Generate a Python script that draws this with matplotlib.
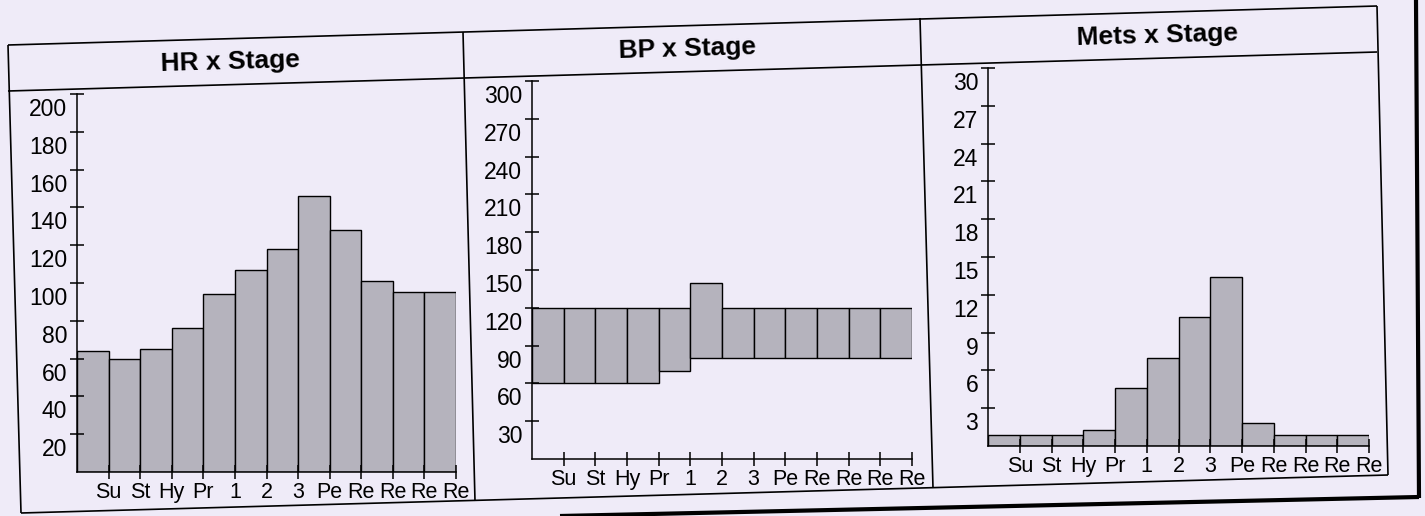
import matplotlib
matplotlib.use("Agg")
import matplotlib.pyplot as plt
from matplotlib.lines import Line2D
from matplotlib.transforms import ScaledTranslation
import numpy as np

# ---- data ----
stages = ['Su', 'St', 'Hy', 'Pr', '1', '2', '3', 'Pe', 'Re', 'Re', 'Re', 'Re']
hr = [64, 60, 65, 76, 94, 107, 118, 146, 128, 101, 95, 95]
bp_sys = [120, 120, 120, 120, 120, 140, 120, 120, 120, 120, 120, 120]
bp_dia = [60, 60, 60, 60, 70, 80, 80, 80, 80, 80, 80, 80]
mets = [0.9, 0.9, 0.9, 1.3, 4.6, 7.0, 10.2, 13.4, 1.8, 0.9, 0.9, 0.9]

titles = ['HR x Stage', 'BP x Stage', 'Mets x Stage']
hr_ticks = [20, 40, 60, 80, 100, 120, 140, 160, 180, 200]
bp_ticks = [30, 60, 90, 120, 150, 180, 210, 240, 270, 300]
mets_ticks = [3, 6, 9, 12, 15, 18, 21, 24, 27, 30]

# ---- style ----
BG = '#efebf8'
BAR = '#b5b3bd'
FONT = ['Liberation Sans', 'DejaVu Sans']
plt.rcParams['font.family'] = FONT

W, H = 1425, 516
fig = plt.figure(figsize=(W / 100, H / 100), dpi=100, facecolor=BG)


def px_axes(l, r, t, b):
    ax = fig.add_axes([l / W, 1 - b / H, (r - l) / W, (b - t) / H])
    ax.set_facecolor('none')
    return ax


def px_line(x0, y0, x1, y1, lw=1.2, color='black'):
    fig.add_artist(Line2D([x0 / W, x1 / W], [1 - y0 / H, 1 - y1 / H],
                          transform=fig.transFigure, color=color, lw=lw,
                          solid_capstyle='butt'))


def style_axis(ax, ymax, yticks):
    n = len(stages)
    ax.set_xlim(0, n)
    ax.set_ylim(0, ymax)
    for s in ('top', 'right'):
        ax.spines[s].set_visible(False)
    for s in ('left', 'bottom'):
        ax.spines[s].set_linewidth(1.1)
    ax.set_xticks(np.arange(1, n + 1))
    ax.set_xticklabels(stages, fontsize=15.5)
    ax.set_yticks(yticks)
    ax.set_yticklabels([str(v) for v in yticks], fontsize=16.5)
    ax.tick_params(axis='both', direction='inout', length=10, width=1.1,
                   pad=2, colors='black')
    # in the original the value labels sit a little below their tick marks
    shift = ScaledTranslation(0, -0.13, fig.dpi_scale_trans)
    for lab in ax.get_yticklabels():
        lab.set_transform(lab.get_transform() + shift)


x = np.arange(len(stages))

# HR panel
ax1 = px_axes(77, 456, 94, 472)
ax1.bar(x, hr, width=1.0, align='edge', color=BAR, edgecolor='black',
        linewidth=1.0, zorder=1)
style_axis(ax1, 200, hr_ticks)

# BP panel
ax2 = px_axes(532, 912, 81, 459)
bp_h = [s - d for s, d in zip(bp_sys, bp_dia)]
ax2.bar(x, bp_h, bottom=bp_dia, width=1.0, align='edge', color=BAR,
        edgecolor='black', linewidth=1.0, zorder=1)
style_axis(ax2, 300, bp_ticks)

# Mets panel
ax3 = px_axes(988, 1369, 68, 446)
ax3.bar(x, mets, width=1.0, align='edge', color=BAR, edgecolor='black',
        linewidth=1.0, zorder=1)
style_axis(ax3, 30, mets_ticks)

# ---- table frame (slightly tilted as in the scan) ----
px_line(8, 45, 1377, 6)        # top
px_line(8, 91, 1377, 52)       # title separator
px_line(21, 513, 1388, 475)    # bottom
px_line(8, 45, 21, 513)        # left
px_line(463, 32, 475, 501)     # separator 1
px_line(920, 18, 933, 488)     # separator 2
px_line(1377, 6, 1388, 475)    # right
# page border
px_line(1416, 0, 1419, 498, lw=3.0)
px_line(560, 516, 1419, 497, lw=3.0)

# ---- titles ----
rot = 1.63
for (cx, cy), t in zip([(230, 62), (687, 49), (1157, 36)], titles):
    fig.text(cx / W, 1 - cy / H, t, ha='center', va='center',
             fontsize=19, fontweight='bold', rotation=rot,
             rotation_mode='anchor', family=FONT)

fig.savefig('out.png', dpi=100, facecolor=BG)
